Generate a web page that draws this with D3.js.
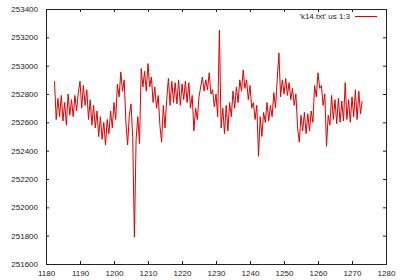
<!DOCTYPE html>
<html>
<head>
<meta charset="utf-8">
<script src="https://cdn.jsdelivr.net/npm/d3@7"></script>
<style>
  body { margin: 0; background: #fff; }
  text { font-family: "Liberation Sans", Arial, sans-serif; font-size: 8px; fill: #222; }
</style>
</head>
<body>
<svg></svg>
<script>
let width = 400
let height = 280
let margin = {top: 9, right: 14, bottom: 16, left: 46}

let seriesLabel = "'k14.txt' us 1:3"

let xTicks = [1180, 1190, 1200, 1210, 1220, 1230, 1240, 1250, 1260, 1270, 1280]
let yTicks = [251600, 251800, 252000, 252200, 252400, 252600, 252800, 253000, 253200, 253400]

let xValues = [
  1182.5, 1183, 1183.5, 1184, 1184.5, 1185, 1185.5, 1186, 1186.5, 1187,
  1187.5, 1188, 1188.5, 1189, 1189.5, 1190, 1190.5, 1191, 1191.5, 1192,
  1192.5, 1193, 1193.5, 1194, 1194.5, 1195, 1195.5, 1196, 1196.5, 1197,
  1197.5, 1198, 1198.5, 1199, 1199.5, 1200, 1200.5, 1201, 1201.5, 1202,
  1202.5, 1203, 1203.5, 1204, 1204.5, 1205, 1205.5, 1206, 1206.5, 1207,
  1207.5, 1208, 1208.5, 1209, 1209.5, 1210, 1210.5, 1211, 1211.5, 1212,
  1212.5, 1213, 1213.5, 1214, 1214.5, 1215, 1215.5, 1216, 1216.5, 1217,
  1217.5, 1218, 1218.5, 1219, 1219.5, 1220, 1220.5, 1221, 1221.5, 1222,
  1222.5, 1223, 1223.5, 1224, 1224.5, 1225, 1225.5, 1226, 1226.5, 1227,
  1227.5, 1228, 1228.5, 1229, 1229.5, 1230, 1230.5, 1231, 1231.5, 1232,
  1232.5, 1233, 1233.5, 1234, 1234.5, 1235, 1235.5, 1236, 1236.5, 1237,
  1237.5, 1238, 1238.5, 1239, 1239.5, 1240, 1240.5, 1241, 1241.5, 1242,
  1242.5, 1243, 1243.5, 1244, 1244.5, 1245, 1245.5, 1246, 1246.5, 1247,
  1247.5, 1248, 1248.5, 1249, 1249.5, 1250, 1250.5, 1251, 1251.5, 1252,
  1252.5, 1253, 1253.5, 1254, 1254.5, 1255, 1255.5, 1256, 1256.5, 1257,
  1257.5, 1258, 1258.5, 1259, 1259.5, 1260, 1260.5, 1261, 1261.5, 1262,
  1262.5, 1263, 1263.5, 1264, 1264.5, 1265, 1265.5, 1266, 1266.5, 1267,
  1267.5, 1268, 1268.5, 1269, 1269.5, 1270, 1270.5, 1271, 1271.5, 1272,
  1272.5, 1273
]

let yValues = [
  252890, 252620, 252770, 252640, 252790, 252610, 252740, 252580, 252800, 252650,
  252760, 252640, 252790, 252680, 252810, 252890, 252700, 252860, 252720, 252830,
  252620, 252760, 252580, 252720, 252560, 252680, 252500, 252640, 252480, 252600,
  252440, 252620, 252520, 252680, 252560, 252740, 252620, 252870, 252780, 252955,
  252820, 252900, 252600, 252440, 252650, 252730, 252500, 251790, 252480, 252640,
  252450, 252980, 252850, 252960, 252820, 253015, 252850, 252920, 252740, 252850,
  252700, 252790, 252580, 252460, 252720, 252560, 252760, 252910, 252720, 252890,
  252740, 252880, 252730, 252900, 252720, 252870, 252760, 252890, 252740, 252880,
  252700, 252790, 252540, 252700, 252620, 252780, 252850, 252920, 252820, 252900,
  252830, 252950, 252800, 252830, 252710, 252800, 252640, 253250, 252560, 252700,
  252520, 252720, 252540, 252740, 252640, 252820, 252700, 252850, 252740, 252900,
  252820, 252970, 252840, 252900, 252760, 252860, 252700, 252740, 252620, 252720,
  252360, 252640, 252500, 252670, 252600, 252740, 252610, 252720, 252640, 252810,
  252700, 252900, 253090, 252780, 252900, 252800, 252910, 252790, 252880, 252760,
  252840, 252720, 252800, 252560, 252460, 252650, 252540, 252670, 252520, 252660,
  252540, 252680, 252600, 252860, 252780, 252950, 252840, 252860, 252720, 252800,
  252430, 252650, 252580, 252790, 252620, 252760, 252590, 252770, 252600, 252750,
  252610, 252880, 252620, 252760, 252600, 252780, 252640, 252830, 252620, 252820,
  252660, 252750
]

let svg = d3.select("svg")
let xScale
let yScale

let drawCanvas = () => {
  svg.attr("width", width)
  svg.attr("height", height)
}

let generateScales = () => {
  xScale = d3.scaleLinear()
             .domain([1180, 1280])
             .range([margin.left, width - margin.right])
  yScale = d3.scaleLinear()
             .domain([251600, 253400])
             .range([height - margin.bottom, margin.top])
}

let generateAxes = () => {
  let plotW = width - margin.left - margin.right
  let plotH = height - margin.top - margin.bottom

  // gnuplot style: ticks point inward and are mirrored on all sides
  let xAxis = d3.axisBottom(xScale).tickValues(xTicks).tickFormat(d3.format('d')).tickSizeInner(-3).tickSizeOuter(0).tickPadding(6)
  let gx = svg.append('g')
     .attr('transform', 'translate(0,' + (height - margin.bottom) + ')')
     .call(xAxis)
  let xTop = d3.axisTop(xScale).tickValues(xTicks).tickFormat('').tickSizeInner(-3).tickSizeOuter(0)
  let gxt = svg.append('g')
     .attr('transform', 'translate(0,' + margin.top + ')')
     .call(xTop)

  let yAxis = d3.axisLeft(yScale).tickValues(yTicks).tickFormat(d3.format('d')).tickSizeInner(-3).tickSizeOuter(0).tickPadding(8)
  let gy = svg.append('g')
     .attr('transform', 'translate(' + margin.left + ',0)')
     .call(yAxis)
  let yRight = d3.axisRight(yScale).tickValues(yTicks).tickFormat('').tickSizeInner(-3).tickSizeOuter(0)
  let gyr = svg.append('g')
     .attr('transform', 'translate(' + (width - margin.right) + ',0)')
     .call(yRight)

  svg.selectAll('.domain').remove()
  svg.selectAll('.tick line').attr('stroke', '#222')
  svg.selectAll('.tick text').attr('font-size', 8).attr('font-family', '"Liberation Sans", Arial, sans-serif').attr('fill', '#222')

  svg.append('rect')
     .attr('x', margin.left + 0.5)
     .attr('y', margin.top + 0.5)
     .attr('width', plotW)
     .attr('height', plotH)
     .attr('fill', 'none')
     .attr('stroke', '#222')
     .attr('stroke-width', 1)
}

let drawData = () => {
  let points = xValues.map((x, i) => [x, yValues[i]])
  let line = d3.line()
               .x((d) => xScale(d[0]))
               .y((d) => yScale(d[1]))
  svg.append('path')
     .datum(points)
     .attr('d', line)
     .attr('fill', 'none')
     .attr('stroke', '#e00000')
     .attr('stroke-width', 1)
     .attr('stroke-linejoin', 'miter')
}

let drawLegend = () => {
  let lx = width - margin.right - 31
  let ly = margin.top + 7
  svg.append('text')
     .attr('x', lx - 5)
     .attr('y', ly)
     .attr('dy', '0.35em')
     .attr('text-anchor', 'end')
     .text(seriesLabel)
  svg.append('line')
     .attr('x1', lx)
     .attr('x2', lx + 22)
     .attr('y1', ly + 0.5)
     .attr('y2', ly + 0.5)
     .attr('stroke', '#e00000')
     .attr('stroke-width', 1)
}

drawCanvas()
generateScales()
drawData()
generateAxes()
drawLegend()
</script>
</body>
</html>
